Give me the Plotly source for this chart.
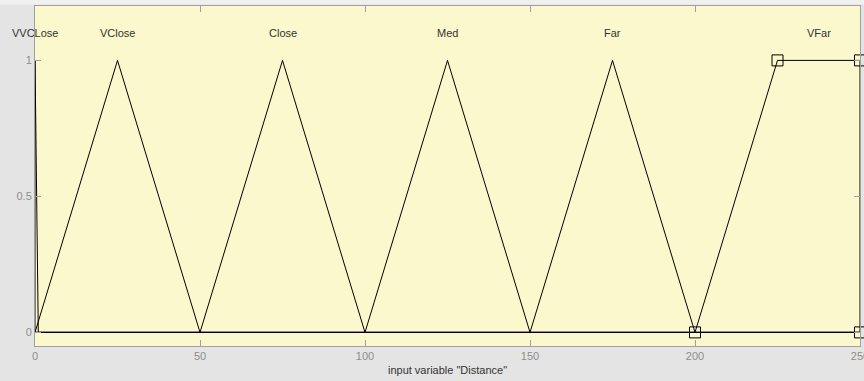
import plotly.graph_objects as go

# Membership functions of the input variable "Distance"
x_min, x_max = 0, 250
mf_names = ["VVCLose", "VClose", "Close", "Med", "Far", "VFar"]
mf_types = ["trimf", "trimf", "trimf", "trimf", "trimf", "trapmf"]
mf_params = [
    [0, 0, 1],
    [0, 25, 50],
    [50, 75, 100],
    [100, 125, 150],
    [150, 175, 200],
    [200, 225, 250, 250],
]
selected_mf = "VFar"
x_ticks = [0, 50, 100, 150, 200, 250]
y_ticks = [0, 0.5, 1]
axis_title = 'input variable "Distance"'


def mf_outline(kind, p):
    """Vertices of a piecewise-linear membership function over the full range."""
    if kind == "trimf":
        xs = [x_min, p[0], p[1], p[2], x_max]
        ys = [0, 0, 1, 0, 0]
    else:
        xs = [x_min, p[0], p[1], p[2], p[3], x_max]
        ys = [0, 0, 1, 1, 0, 0]
    return xs, ys


def mf_center(kind, p):
    return p[1] if kind == "trimf" else (p[1] + p[2]) / 2


fig = go.Figure()
annotations = []
for name, kind, p in zip(mf_names, mf_types, mf_params):
    xs, ys = mf_outline(kind, p)
    fig.add_trace(go.Scatter(x=xs, y=ys, mode="lines",
                             line=dict(color="black", width=1),
                             hoverinfo="skip", showlegend=False))
    annotations.append(dict(x=mf_center(kind, p), y=1.1, xref="x", yref="y",
                            text=name, showarrow=False,
                            font=dict(family="Liberation Sans", size=11, color="#333333")))
    if name == selected_mf:
        fig.add_trace(go.Scatter(x=p, y=[0, 1, 1, 0], mode="markers",
                                 marker=dict(symbol="square-open", size=11,
                                             color="black", line=dict(width=1)),
                                 cliponaxis=False, hoverinfo="skip", showlegend=False))

axis_common = dict(showline=True, linecolor="#A0A0A0", linewidth=1, mirror="allticks",
                   ticks="inside", ticklen=6, tickcolor="#A0A0A0",
                   showgrid=False, zeroline=False, ticklabeloverflow="allow",
                   automargin=False,
                   tickfont=dict(family="Liberation Sans", size=11, color="#8C8C8C"))

fig.update_xaxes(range=[x_min, x_max], tickvals=x_ticks,
                 title=dict(text=axis_title, standoff=5,
                            font=dict(family="Liberation Sans", size=11, color="#333333")),
                 **axis_common)
fig.update_yaxes(range=[-0.05, 1.2], tickvals=y_ticks, ticktext=["0", "0.5", "1"],
                 **axis_common)

fig.update_layout(
    width=864, height=381,
    margin=dict(l=35, r=4, t=6, b=35),
    paper_bgcolor="#E4E4E4",
    plot_bgcolor="#FBF8CD",
    annotations=annotations,
    shapes=[dict(type="rect", xref="paper", yref="paper",
                 x0=-0.05, x1=1.01, y0=1 + 1.5 / 340, y1=1 + 6 / 340,
                 fillcolor="#F0F0F0", line=dict(width=0), layer="below")],
)

fig.write_html("out.html")
